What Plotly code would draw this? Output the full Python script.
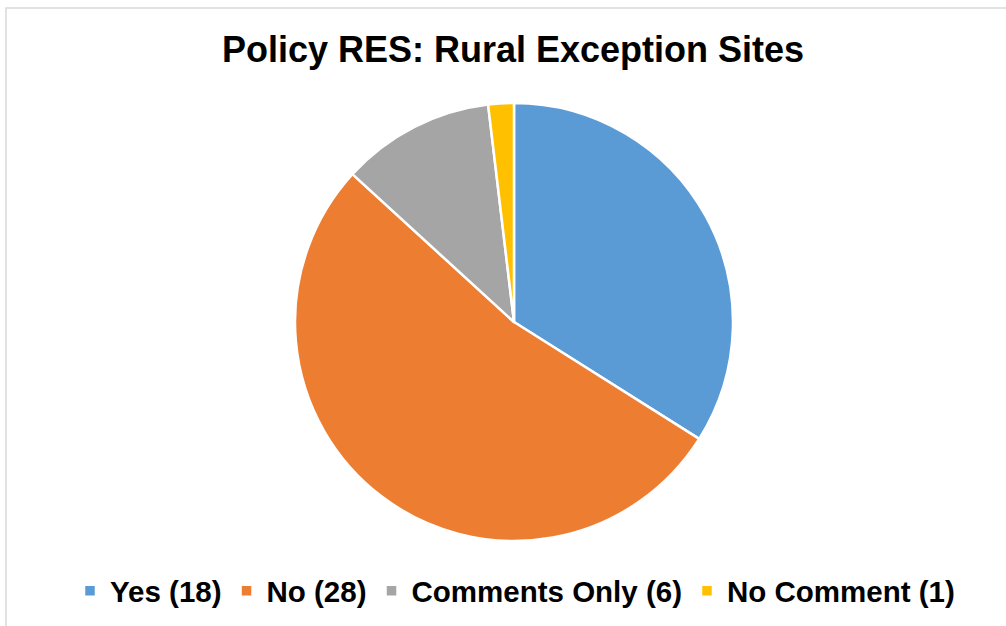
import plotly.graph_objects as go

labels = ["Yes (18)", "No (28)", "Comments Only (6)", "No Comment (1)"]
values = [18, 28, 6, 1]
colors = ["#5B9BD5", "#ED7D31", "#A5A5A5", "#FFC000"]
title_text = "Policy RES: Rural Exception Sites"

W, H = 1006, 626

fig = go.Figure(go.Pie(
    labels=labels,
    values=values,
    sort=False,
    direction="clockwise",
    rotation=0,
    textinfo="none",
    marker=dict(colors=colors, line=dict(color="white", width=2.5)),
    domain=dict(x=[295 / W, 733 / W], y=[1 - 541 / H, 1 - 103 / H]),
))

fig.update_layout(
    width=W, height=H,
    margin=dict(l=0, r=0, t=0, b=0),
    paper_bgcolor="white",
    plot_bgcolor="white",
    title=dict(
        text="<b>" + title_text + "</b>",
        x=513 / W, xanchor="center",
        y=1 - 49 / H, yanchor="middle", yref="container",
        font=dict(family="Liberation Sans, Arial, sans-serif", size=36, color="#000000"),
    ),
    legend=dict(
        orientation="h",
        x=515 / W, xanchor="center",
        y=1 - 591 / H, yanchor="middle",
        font=dict(family="Liberation Sans, Arial, sans-serif", size=29.5, color="#000000", weight="bold"),
        itemwidth=30,
        traceorder="normal",
    ),
    shapes=[dict(
        type="rect", xref="paper", yref="paper",
        x0=6 / W, x1=1.02, y0=-0.02, y1=1 - 8 / H,
        line=dict(color="#D9D9D9", width=1.5),
        fillcolor="rgba(0,0,0,0)",
        layer="below",
    )],
)

fig.write_html(
    "out.html",
    config={"displayModeBar": False},
    post_script="document.body.style.margin='0px';",
)
